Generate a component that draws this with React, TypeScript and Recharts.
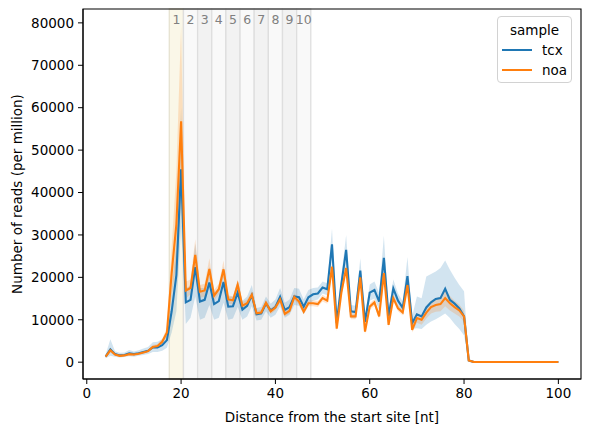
import React from 'react';
import {
  ComposedChart, Line, Area, XAxis, YAxis, ReferenceArea, Legend,
} from 'recharts';

// distance from the start site [nt]
const positions = [
  4, 5, 6, 7, 8, 9, 10, 11, 12, 13, 14, 15, 16, 17, 18, 19, 20, 21, 22, 23,
  24, 25, 26, 27, 28, 29, 30, 31, 32, 33, 34, 35, 36, 37, 38, 39, 40, 41, 42, 43,
  44, 45, 46, 47, 48, 49, 50, 51, 52, 53, 54, 55, 56, 57, 58, 59, 60, 61, 62, 63,
  64, 65, 66, 67, 68, 69, 70, 71, 72, 73, 74, 75, 76, 77, 78, 79, 80, 81, 82, 83,
  84, 85, 86, 87, 88, 89, 90, 91, 92, 93, 94, 95, 96, 97, 98, 99, 100,
];

const tcxMean = [
  1300, 3000, 1900, 1600, 1700, 2100, 1900, 2100, 2400, 2700, 3500, 3500, 4000, 5200, 12000, 20500, 45500, 14100, 14700, 22400,
  14300, 14700, 18800, 13700, 14400, 18900, 13100, 13200, 16400, 12400, 13300, 15800, 11300, 11500, 13800, 12200, 13000, 15400, 12300, 13000,
  15500, 15300, 13100, 15300, 16000, 16200, 17600, 17200, 27800, 9200, 18500, 26500, 12000, 11800, 21600, 9500, 16400, 17000, 14300, 24600,
  10800, 17400, 14500, 12800, 20300, 9200, 11300, 10800, 12900, 14100, 14900, 15100, 17300, 14700, 13800, 12700, 10800, 400, 80, 50,
  50, 50, 50, 50, 50, 50, 50, 50, 50, 50, 50, 50, 50, 50, 50, 50, 50,
];
const tcxLow = [
  900, 1500, 1300, 1100, 1200, 1400, 1300, 1500, 1700, 1900, 2400, 2400, 2700, 3400, 7000, 12000, 32000, 9000, 10500, 15500,
  10000, 10500, 13500, 10000, 10500, 14000, 10000, 10300, 13000, 10000, 10800, 13200, 9800, 10000, 12000, 10500, 11200, 13200, 10500, 11200,
  13500, 13300, 11300, 13500, 14500, 14800, 16200, 15800, 24500, 7800, 16500, 23500, 10500, 10300, 18500, 8000, 14500, 15000, 12300, 20500,
  9300, 15300, 12800, 11300, 17500, 7800, 8000, 7800, 8800, 9600, 10100, 10800, 11500, 10400, 9000, 7800, 6300, 200, 40, 20,
  20, 20, 20, 20, 20, 20, 20, 20, 20, 20, 20, 20, 20, 20, 20, 20, 20,
];
const tcxHigh = [
  1800, 5400, 2600, 2200, 2300, 2900, 2500, 2800, 3200, 3600, 4700, 4800, 5400, 7000, 17000, 28000, 60000, 17500, 18000, 28000,
  17500, 17500, 22500, 16500, 17500, 22500, 15500, 15500, 19000, 14500, 15500, 18200, 12800, 13000, 15500, 13800, 14800, 17500, 14000, 14800,
  17500, 17300, 14800, 17000, 17500, 17600, 19000, 18600, 31500, 10600, 20500, 30000, 13500, 13300, 24500, 11000, 18300, 19000, 16300, 29800,
  12300, 19500, 16200, 14300, 24800, 10800, 15500, 15100, 20200, 20800, 21400, 22200, 24000, 21800, 19900, 18200, 16700, 700, 150, 90,
  90, 90, 90, 90, 90, 90, 90, 90, 90, 90, 90, 90, 90, 90, 90, 90, 90,
];

const noaMean = [
  1300, 2800, 1800, 1500, 1600, 1900, 1800, 2000, 2300, 2600, 3600, 3800, 4800, 7000, 21000, 32500, 56800, 16900, 17500, 25300,
  16600, 16900, 22000, 15700, 17200, 21900, 14800, 14600, 18300, 13300, 13900, 15900, 11500, 11700, 14000, 12000, 12900, 14800, 11400, 12100,
  15400, 14300, 11900, 13900, 13900, 13700, 15100, 14500, 22500, 7900, 16500, 22200, 10800, 10800, 20000, 7200, 13100, 14100, 10800, 21000,
  8800, 15100, 12700, 11700, 18200, 7600, 10400, 10000, 11700, 13000, 13500, 13700, 15100, 13900, 13000, 12200, 10800, 400, 80, 50,
  50, 50, 50, 50, 50, 50, 50, 50, 50, 50, 50, 50, 50, 50, 50, 50, 50,
];
const noaLow = [
  1000, 2200, 1500, 1300, 1400, 1600, 1500, 1700, 2000, 2300, 3100, 3300, 4100, 5800, 16000, 23000, 38000, 15000, 16000, 22500,
  15200, 15500, 19800, 14500, 16000, 20000, 13800, 13700, 17200, 12500, 13100, 15000, 10900, 11100, 13300, 11300, 12200, 14000, 10800, 11500,
  14600, 13600, 11300, 13200, 13200, 13000, 14300, 13800, 21300, 7300, 15600, 21000, 10100, 10100, 19000, 6600, 12300, 13300, 10100, 20000,
  8200, 14300, 12000, 11000, 17300, 7000, 9300, 8800, 10300, 11500, 11900, 12000, 13200, 12200, 11500, 10800, 9500, 250, 40, 20,
  20, 20, 20, 20, 20, 20, 20, 20, 20, 20, 20, 20, 20, 20, 20, 20, 20,
];
const noaHigh = [
  1600, 3400, 2100, 1700, 1800, 2200, 2100, 2300, 2600, 2900, 4100, 4300, 5500, 8200, 27000, 45000, 79300, 19000, 19500, 29000,
  18200, 18500, 24500, 17000, 18500, 24000, 15800, 15500, 19500, 14200, 14800, 16800, 12100, 12300, 14700, 12700, 13600, 15600, 12000, 12700,
  16200, 15000, 12500, 14600, 14600, 14400, 15900, 15200, 23700, 8500, 17400, 23400, 11500, 11500, 21000, 7800, 13900, 14900, 11500, 22000,
  9400, 15900, 13400, 12400, 19100, 8200, 11500, 11200, 13100, 14500, 15100, 15400, 17000, 15600, 14500, 13600, 12100, 600, 150, 90,
  90, 90, 90, 90, 90, 90, 90, 90, 90, 90, 90, 90, 90, 90, 90, 90, 90,
];

// codon windows shaded behind the profile
const spanStarts = [17.5, 20.5, 23.5, 26.5, 29.5, 32.5, 35.5, 38.5, 41.5, 44.5];
const spanEnds = [20.5, 23.5, 26.5, 29.5, 32.5, 35.5, 38.5, 41.5, 44.5, 47.5];
const spanLabels = ['1', '2', '3', '4', '5', '6', '7', '8', '9', '10'];

const xTicks = [0, 20, 40, 60, 80, 100];
const yTicks = [0, 10000, 20000, 30000, 40000, 50000, 60000, 70000, 80000];
const X_DOMAIN: [number, number] = [-0.8, 104.8];
const Y_DOMAIN: [number, number] = [-3965, 83270];

const BLUE = '#1f77b4';
const ORANGE = '#ff7f0e';
const FONT = 'DejaVu Sans, sans-serif';

const data = positions.map((nt, i) => ({
  nt,
  tcx: tcxMean[i],
  noa: noaMean[i],
  tcxBand: [tcxLow[i], tcxHigh[i]],
  noaBand: [noaLow[i], noaHigh[i]],
}));

function spanFill(i: number) {
  if (i === 0) return '#faf7e8';
  return i % 2 === 1 ? '#f9f9f9' : '#f2f2f2';
}

function SampleLegend() {
  const rows = [
    { name: 'tcx', color: BLUE },
    { name: 'noa', color: ORANGE },
  ];
  return (
    <div style={{
      width: 75, height: 67, boxSizing: 'border-box', paddingTop: 3,
      border: '1px solid #d2d2d2', borderRadius: 4, background: 'rgba(255,255,255,0.8)',
      fontFamily: FONT, fontSize: 13.5, color: '#000', lineHeight: '20px',
    }}>
      <div style={{ textAlign: 'center' }}>sample</div>
      {rows.map(r => (
        <div key={r.name} style={{ display: 'flex', alignItems: 'center', height: 20 }}>
          <span style={{ display: 'inline-block', width: 30, height: 2, background: r.color, marginLeft: 4, marginRight: 10 }} />
          <span>{r.name}</span>
        </div>
      ))}
    </div>
  );
}

export default function App() {
  const tick = { fontSize: 13.5, fill: '#000', fontFamily: FONT };
  return (
    <div style={{ position: 'absolute', left: 0, top: 0, width: 589, height: 432, background: '#fff' }}>
      <ComposedChart width={589} height={432} data={data} margin={{ top: 9, right: 8, bottom: 0, left: 0 }}>
        <XAxis
          dataKey="nt" type="number" domain={X_DOMAIN} ticks={xTicks} height={53}
          tickSize={5} tickMargin={4} tick={tick} stroke="#000" allowDataOverflow
          label={{ value: 'Distance from the start site [nt]', position: 'insideBottom', offset: 10, style: { fontSize: 13.5, fill: '#000', fontFamily: FONT } }}
        />
        <YAxis
          type="number" domain={Y_DOMAIN} ticks={yTicks} width={83}
          tickSize={5} tickMargin={4} tick={tick} stroke="#000" allowDataOverflow
          label={{ value: 'Number of reads (per million)', angle: -90, position: 'insideLeft', offset: 17, style: { textAnchor: 'middle', fontSize: 13.5, fill: '#000', fontFamily: FONT } }}
        />
        {spanStarts.map((s, i) => (
          <ReferenceArea
            key={i} x1={s} x2={spanEnds[i]} fill={spanFill(i)} fillOpacity={1}
            stroke={i === 0 ? '#e6e2d0' : '#dedede'} strokeWidth={1.3}
            label={{ value: spanLabels[i], position: 'insideTop', offset: 6, fill: '#808080', fontSize: 12.5, fontFamily: FONT }}
          />
        ))}
        <Area dataKey="tcxBand" type="linear" stroke="none" fill={BLUE} fillOpacity={0.2} isAnimationActive={false} />
        <Line dataKey="tcx" type="linear" stroke={BLUE} strokeWidth={2.1} dot={false} activeDot={false} isAnimationActive={false} />
        <Area dataKey="noaBand" type="linear" stroke="none" fill={ORANGE} fillOpacity={0.2} isAnimationActive={false} />
        <Line dataKey="noa" type="linear" stroke={ORANGE} strokeWidth={2.1} dot={false} activeDot={false} isAnimationActive={false} />
        {/* axes frame: top and right spines */}
        <ReferenceArea x1={X_DOMAIN[0]} x2={X_DOMAIN[1]} y1={Y_DOMAIN[0]} y2={Y_DOMAIN[1]} fill="none" stroke="#000" strokeWidth={1.1} />
        <Legend
          layout="vertical" align="center" verticalAlign="middle"
          wrapperStyle={{ position: 'absolute', top: 16, left: 497, width: 75 }}
          content={() => <SampleLegend />}
        />
      </ComposedChart>
    </div>
  );
}
